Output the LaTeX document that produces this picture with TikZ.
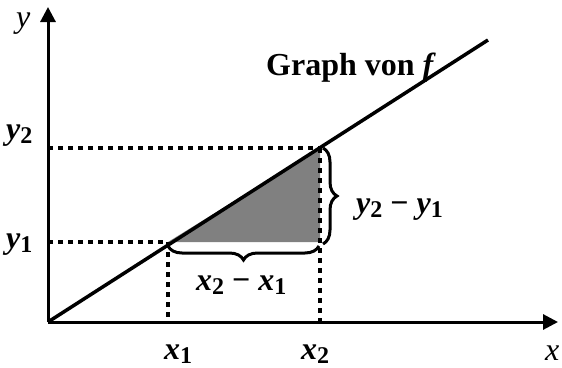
\documentclass[tikz,border=0pt]{standalone}
\usepackage{fontspec}
\setmainfont{Liberation Serif}
\usetikzlibrary{arrows.meta,decorations.pathreplacing}

\newcommand{\subvar}[2]{{\itshape #1}\raisebox{-4pt}{\fontsize{24}{26}\selectfont #2}}

\begin{document}
\begin{tikzpicture}[x=1pt, y=-1pt,
			axis/.style={line width=3pt, -{Triangle[length=15pt,width=15pt]}},
			graphline/.style={line width=3.5pt},
			guide/.style={line width=4.5pt, dash pattern=on 4.5pt off 5.5pt},
			bracket/.style={decorate, decoration={brace, amplitude=14pt}, line width=3pt},
			lbl/.style={anchor=base west, inner sep=0pt, font=\fontsize{32}{36}\selectfont\bfseries},
			axlbl/.style={anchor=base west, inner sep=0pt, font=\fontsize{32}{36}\selectfont\itshape}]

			\useasboundingbox (0,0) rectangle (562,367);

			% points
			\coordinate (O) at (48,322);
			\coordinate (XEnd) at (558,322);
			\coordinate (YEnd) at (48,7);
			\coordinate (GEnd) at (488,40);
			\coordinate (P1) at (168,242);
			\coordinate (P2) at (320,148);
			\coordinate (C) at (320,242);
			\coordinate (X1) at (168,322);
			\coordinate (X2) at (320,322);
			\coordinate (Y1) at (48,242);
			\coordinate (Y2) at (48,148);

			\fill[gray] (P1) -- (P2) -- (C) -- cycle;

			% dotted guides
			\draw[guide] (Y1) -- (P1);
			\draw[guide] (Y2) -- (P2);
			\draw[guide] (P1) -- (X1);
			\draw[guide] (P2) -- (X2);

			\draw[graphline] (O) -- (GEnd);
			\draw[axis] (O) -- (XEnd);
			\draw[axis] (O) -- (YEnd);

			% braces
			\draw[bracket] (323,148) -- (323,244);
			\draw[bracket] (319,246) -- (168,246);

			\node[lbl] (GraphLbl) at (266,75) {Graph von {\itshape f}};
			\node[lbl] (X1Lbl) at (164,359) {\subvar{x}{1}};
			\node[lbl] (X2Lbl) at (301,359) {\subvar{x}{2}};
			\node[lbl] (Y1Lbl) at (6,248) {\subvar{y}{1}};
			\node[lbl] (Y2Lbl) at (6,139) {\subvar{y}{2}};
			\node[lbl] (DxLbl) at (196,290) {\subvar{x}{2} − \subvar{x}{1}};
			\node[lbl] (DyLbl) at (356,213) {\subvar{y}{2} − \subvar{y}{1}};
			\node[axlbl] (XLbl) at (545,360) {x};
			\node[axlbl] (YLbl) at (16,27) {y};
		\end{tikzpicture}
\end{document}
